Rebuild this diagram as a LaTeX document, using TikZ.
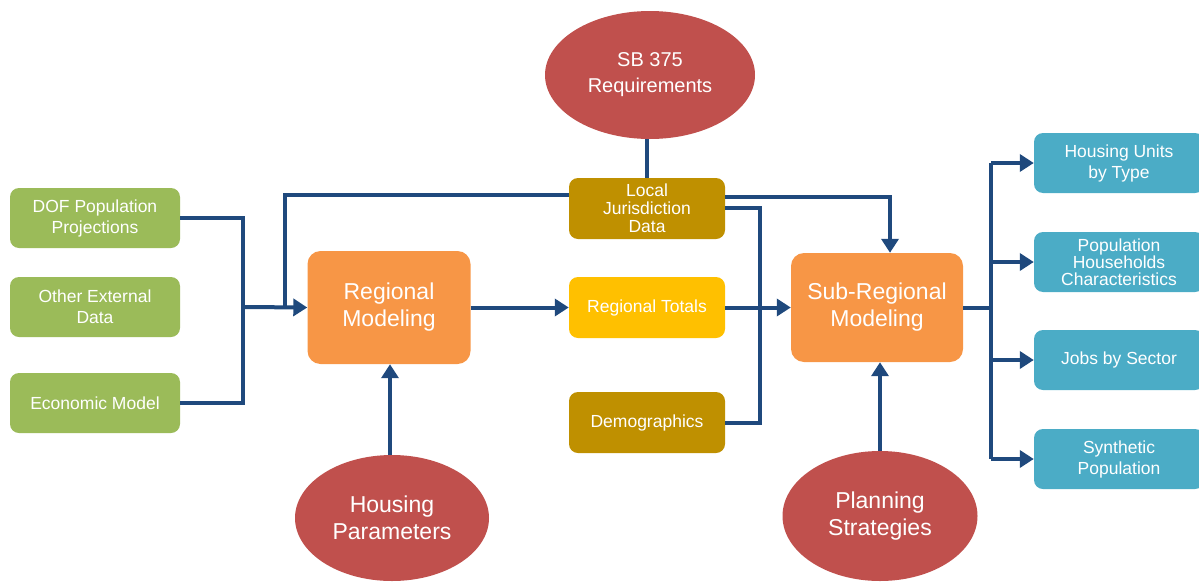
\documentclass[tikz,border=0pt]{standalone}
\usepackage{fontspec}
\setmainfont{Liberation Sans}
\usetikzlibrary{shapes.geometric,arrows.meta}
\definecolor{lnblue}{RGB}{31,73,125}
\definecolor{grn}{RGB}{155,187,89}
\definecolor{org}{RGB}{247,150,70}
\definecolor{gold}{RGB}{191,144,0}
\definecolor{ylw}{RGB}{255,192,0}
\definecolor{cyanbx}{RGB}{75,172,198}
\definecolor{redel}{RGB}{192,80,77}
\tikzset{
  box/.style={rectangle,rounded corners=9pt,draw=none,text=white,align=center,inner sep=0pt},
  smallbox/.style={box,minimum width=170pt,minimum height=60pt,font=\fontsize{17.5}{21}\selectfont},
  midbox/.style={box,minimum width=156pt,minimum height=61pt,font=\fontsize{17.5}{18}\selectfont},
  bigbox/.style={box,fill=org,rounded corners=13pt,font=\fontsize{23}{27}\selectfont},
  ell/.style={ellipse,fill=redel,text=white,align=center,inner sep=0pt,font=\fontsize{23}{27}\selectfont},
  conn/.style={draw=lnblue,line width=4pt,line join=miter},
  arr/.style={conn,-{Triangle[length=14pt,width=17pt]}},
}
\begin{document}
\begin{tikzpicture}[x=1pt,y=-1pt]
\useasboundingbox (0,0) rectangle (1199,581);
\clip (0,0) rectangle (1199,581);
% nodes
\node[smallbox,fill=grn] (dof) at (95,218) {DOF Population\\Projections};
\node[smallbox,fill=grn] (oth) at (95,307) {Other External\\Data};
\node[smallbox,fill=grn] (eco) at (95,403) {Economic Model};
\node[bigbox,minimum width=163pt,minimum height=113pt] (rm) at (389,307.5) {Regional\\Modeling};
\node[midbox,fill=gold] (ljd) at (647,208.5) {Local\\Jurisdiction\\Data};
\node[midbox,fill=ylw] (rt) at (647,307.5) {Regional Totals};
\node[midbox,fill=gold] (dem) at (647,422.5) {Demographics};
\node[bigbox,minimum width=172pt,minimum height=109pt] (srm) at (877,307.5) {Sub-Regional\\Modeling};
\node[ell,minimum width=210pt,minimum height=128pt,font=\fontsize{20}{26}\selectfont] (sb) at (650,75) {SB 375\\Requirements};
\node[ell,minimum width=194pt,minimum height=126pt] (hp) at (392,518) {Housing\\Parameters};
\node[ell,minimum width=195pt,minimum height=130pt] (ps) at (880,516) {Planning\\Strategies};
\node[smallbox,fill=cyanbx,font=\fontsize{17.5}{21}\selectfont] (o1) at (1119,163) {Housing Units\\by Type};
\node[smallbox,fill=cyanbx,font=\fontsize{17.5}{17}\selectfont] (o2) at (1119,262) {Population\\Households\\Characteristics};
\node[smallbox,fill=cyanbx] (o3) at (1119,360) {Jobs by Sector};
\node[smallbox,fill=cyanbx,font=\fontsize{17.5}{21}\selectfont] (o4) at (1119,459) {Synthetic\\Population};
% junction coordinates
\coordinate (lj) at (243,307);
\coordinate (up) at (285,307);
\coordinate (rj) at (760,307);
\coordinate (oj) at (991,308);
% connectors left
\draw[conn] (dof.east) -| (lj) |- (eco.east);
\draw[arr] (lj) -- (rm.west);
\draw[conn] (up) |- (ljd.west |- 0,195);
% top
\draw[conn] (sb.south -| ljd.north) -- (ljd.north);
\draw[arr] (ljd.east |- 0,197) -| (srm.north -| 890,0);
\draw[conn] (ljd.east |- 0,208) -| (rj) |- (dem.east);
% middle
\draw[arr] (rm.east) -- (rt.west);
\draw[arr] (rt.east) -- (srm.west);
% bottom
\draw[arr] (hp.north -| 390,0) -- (rm.south -| 390,0);
\draw[arr] (ps.north -| 880,0) -- (srm.south -| 880,0);
% outputs
\draw[conn] (srm.east |- oj) -- (oj);
\draw[conn] (oj |- o1.west) -- (oj |- o4.west);
\draw[arr] (oj |- o1.west) -- (o1.west);
\draw[arr] (oj |- o2.west) -- (o2.west);
\draw[arr] (oj |- o3.west) -- (o3.west);
\draw[arr] (oj |- o4.west) -- (o4.west);
\end{tikzpicture}
\end{document}
